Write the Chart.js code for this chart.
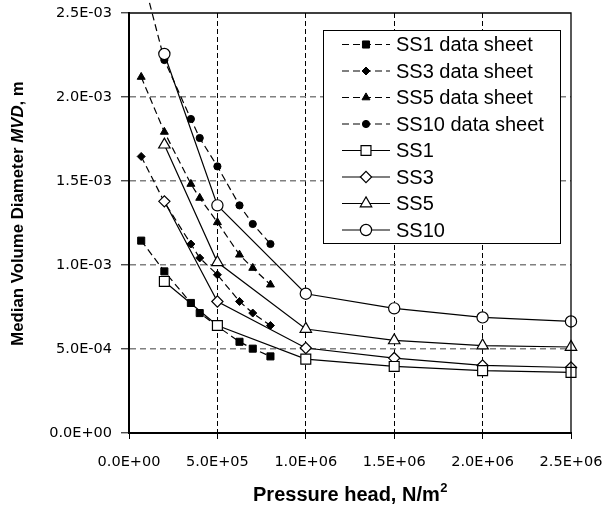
<!DOCTYPE html>
<html><head><meta charset="utf-8">
<script src="https://cdn.jsdelivr.net/npm/chart.js@4/dist/chart.umd.min.js"></script>
<style>html,body{margin:0;padding:0;background:#fff}canvas{display:block}</style>
</head><body>
<canvas id="c" width="603" height="506"></canvas>
<script>
// ---- data ----
const seriesLabels = ['SS1 data sheet','SS3 data sheet','SS5 data sheet','SS10 data sheet','SS1','SS3','SS5','SS10'];
const sheetPressure = [0.69e5, 2e5, 3.5e5, 4e5, 5e5, 6.25e5, 7e5, 8e5];
const sheetSS1  = [1.145e-3, 0.962e-3, 0.774e-3, 0.714e-3, 0.635e-3, 0.543e-3, 0.502e-3, 0.456e-3];
const sheetSS3  = [1.646e-3, 1.375e-3, 1.125e-3, 1.042e-3, 0.942e-3, 0.783e-3, 0.714e-3, 0.640e-3];
const sheetSS5  = [2.119e-3, 1.792e-3, 1.482e-3, 1.399e-3, 1.254e-3, 1.061e-3, 0.982e-3, 0.883e-3];
const sheetSS10 = [2.75e-3, 2.22e-3, 1.869e-3, 1.756e-3, 1.587e-3, 1.355e-3, 1.244e-3, 1.125e-3];
const testPressure = [2e5, 5e5, 1e6, 1.5e6, 2e6, 2.5e6];
const testSS1  = [0.902e-3, 0.640e-3, 0.440e-3, 0.396e-3, 0.371e-3, 0.361e-3];
const testSS3  = [1.379e-3, 0.783e-3, 0.506e-3, 0.446e-3, 0.402e-3, 0.390e-3];
const testSS5  = [1.716e-3, 1.016e-3, 0.619e-3, 0.551e-3, 0.520e-3, 0.512e-3];
const testSS10 = [2.256e-3, 1.355e-3, 0.829e-3, 0.742e-3, 0.688e-3, 0.664e-3];
const xTicks = [0, 5e5, 1e6, 1.5e6, 2e6, 2.5e6];
const xTickLabels = ['0.0E+00','5.0E+05','1.0E+06','1.5E+06','2.0E+06','2.5E+06'];
const yTicks = [0, 5e-4, 1e-3, 1.5e-3, 2e-3, 2.5e-3];
const yTickLabels = ['0.0E+00','5.0E-04','1.0E-03','1.5E-03','2.0E-03','2.5E-03'];
const xTitle = 'Pressure head, N/m';
const xTitleSup = '2';
const yTitleParts = [['Median Volume Diameter ', false], ['MVD', true], [', m', false]];

Chart.defaults.font.family = '"DejaVu Sans", sans-serif';
Chart.defaults.font.size = 14.5;
Chart.defaults.color = '#000';

// ---- build datasets ----
const pts = (xs, ys) => xs.map((x, i) => ({x: x, y: ys[i]}));
const sheetStyles = [['rect',5],['rectRot',4],['triangle',4.6],['circle',3.6]];
const testStyles  = [['rect',7],['rectRot',5.6],['triangle',6.6],['circle',5.6]];
const sheetData = [sheetSS1, sheetSS3, sheetSS5, sheetSS10];
const testData = [testSS1, testSS3, testSS5, testSS10];
const datasets = [];
sheetData.forEach((ys, i) => datasets.push({
  label: seriesLabels[i], data: pts(sheetPressure, ys),
  borderColor: '#000', borderWidth: 1.2, borderDash: [7,4],
  pointStyle: sheetStyles[i][0], pointRadius: sheetStyles[i][1], pointHoverRadius: sheetStyles[i][1],
  pointBackgroundColor: '#000', pointBorderColor: '#000', pointBorderWidth: 1,
  tension: 0, order: 1, clip: {left: 2, top: 13, right: 2, bottom: 2}
}));
testData.forEach((ys, i) => datasets.push({
  label: seriesLabels[i+4], data: pts(testPressure, ys),
  borderColor: '#000', borderWidth: 1.2, borderDash: [],
  pointStyle: testStyles[i][0], pointRadius: testStyles[i][1], pointHoverRadius: testStyles[i][1],
  pointBackgroundColor: '#fff', pointBorderColor: '#000', pointBorderWidth: 1.2,
  tension: 0, order: 0, clip: 8
}));

const bgPlugin = {
  id: 'bg',
  beforeDraw(chart) {
    const c = chart.ctx; c.save(); c.fillStyle = '#fff';
    c.fillRect(0, 0, chart.width, chart.height); c.restore();
  }
};

const decorPlugin = {
  id: 'decor',
  afterDraw(chart) {
    const c = chart.ctx, a = chart.chartArea;
    c.save();
    // top and right frame
    c.strokeStyle = '#000'; c.lineWidth = 1.3; c.setLineDash([]);
    c.beginPath();
    c.moveTo(a.left, a.top); c.lineTo(a.right, a.top); c.lineTo(a.right, a.bottom);
    c.stroke();

    // legend
    const lx = 323, ly = 30, lw = 237, lh = 213;
    c.fillStyle = '#fff'; c.fillRect(lx, ly, lw, lh);
    c.strokeStyle = '#000'; c.lineWidth = 1; c.strokeRect(lx + 0.5, ly + 0.5, lw, lh);
    chart.data.datasets.forEach((ds, i) => {
      const y = 44.5 + i * 26.5;
      c.strokeStyle = '#000'; c.lineWidth = 1.2;
      c.setLineDash(ds.borderDash || []);
      c.beginPath(); c.moveTo(342, y); c.lineTo(390, y); c.stroke();
      c.setLineDash([]);
      const r = ds.pointRadius;
      c.fillStyle = ds.pointBackgroundColor; c.strokeStyle = ds.pointBorderColor; c.lineWidth = ds.pointBorderWidth;
      Chart.helpers.drawPoint(c, {pointStyle: ds.pointStyle, radius: r, borderWidth: ds.pointBorderWidth, rotation: 0}, 366, y);
      c.fillStyle = '#000';
      c.font = '20px "Liberation Sans", Arial, sans-serif';
      c.textBaseline = 'middle'; c.textAlign = 'left';
      c.fillText(ds.label, 396, y + 1);
    });

    // x title
    c.fillStyle = '#000';
    c.textBaseline = 'alphabetic';
    const fMain = 'bold 20px "Liberation Sans", Arial, sans-serif';
    const fSup = 'bold 13px "Liberation Sans", Arial, sans-serif';
    c.font = fMain; const w1 = c.measureText(xTitle).width;
    c.font = fSup; const w2 = c.measureText(xTitleSup).width;
    const cx = (a.left + a.right) / 2;
    let x0 = cx - (w1 + w2) / 2;
    c.font = fMain; c.textAlign = 'left'; c.fillText(xTitle, x0, 500.5);
    c.font = fSup; c.fillText(xTitleSup, x0 + w1 + 0.5, 492);

    // y title (rotated, mixed styles)
    const fy = (it) => (it ? 'italic ' : '') + 'bold 16.8px "Liberation Sans", Arial, sans-serif';
    let total = 0;
    yTitleParts.forEach(p => { c.font = fy(p[1]); total += c.measureText(p[0]).width; });
    c.translate(22.5, 213.5); c.rotate(-Math.PI / 2);
    let xx = -total / 2;
    yTitleParts.forEach(p => { c.font = fy(p[1]); c.fillText(p[0], xx, 0); xx += c.measureText(p[0]).width; });
    c.restore();
  }
};

const edgeTransparent = (edges, col) => (ctx) => {
  const v = ctx.tick ? ctx.tick.value : null;
  return (v !== null && edges.some(e => Math.abs(e - v) < 1e-12)) ? 'rgba(0,0,0,0)' : col;
};
const tickFont = {family: '"DejaVu Sans", sans-serif', size: 14.5};

new Chart(document.getElementById('c'), {
  type: 'line',
  data: {datasets: datasets},
  plugins: [bgPlugin, decorPlugin],
  options: {
    responsive: false, animation: false, devicePixelRatio: 1,
    layout: {padding: {left: 0, top: 13, right: 32, bottom: 0}, autoPadding: false},
    plugins: {legend: {display: false}, tooltip: {enabled: false}, title: {display: false}},
    elements: {line: {fill: false}},
    scales: {
      x: {
        type: 'linear', min: 0, max: 2.5e6,
        afterBuildTicks: s => { s.ticks = xTicks.map(v => ({value: v})); },
        afterFit: s => { s.height = 73; s.paddingLeft = 0; s.paddingRight = 0; },
        ticks: {
          callback: (v, i) => xTickLabels[i], color: '#000', padding: 15, maxRotation: 0, minRotation: 0, autoSkip: false,
          font: tickFont
        },
        grid: {
          color: edgeTransparent([0, 2.5e6], '#000'), lineWidth: 1,
          tickColor: '#000', tickLength: 6, tickWidth: 1, tickBorderDash: []
        },
        border: {display: true, color: '#000', width: 2, dash: [5,3]},
        title: {display: false}
      },
      y: {
        type: 'linear', min: 0, max: 2.5e-3,
        afterBuildTicks: s => { s.ticks = yTicks.map(v => ({value: v})); },
        afterFit: s => { s.width = 129; s.paddingTop = 0; s.paddingBottom = 0; },
        ticks: {
          callback: (v, i) => yTickLabels[i], color: '#000', padding: 9, autoSkip: false,
          font: tickFont
        },
        grid: {
          color: edgeTransparent([0, 2.5e-3], '#808080'), lineWidth: 1.6,
          tickColor: '#000', tickLength: 8, tickWidth: 1, tickBorderDash: []
        },
        border: {display: true, color: '#000', width: 2, dash: [6,4]},
        title: {display: false}
      }
    }
  }
});
</script>
</body></html>
